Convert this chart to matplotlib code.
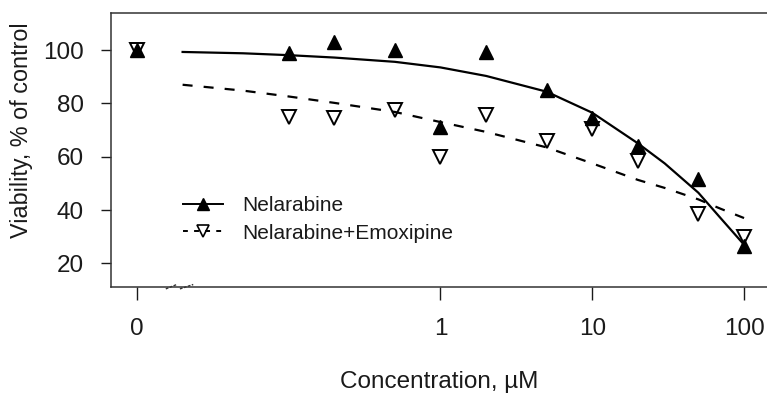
import matplotlib
matplotlib.use("Agg")
import matplotlib.pyplot as plt
import matplotlib.transforms as mtransforms
import numpy as np

plt.rcParams['font.family'] = ['Liberation Sans', 'DejaVu Sans']

# measured points (concentration 0 = control, drawn left of the break)
conc = [0, 0.1, 0.2, 0.5, 1, 2, 5, 10, 20, 50, 100]
nelarabine = [100, 99, 103, 100, 71.3, 99.2, 85, 74.7, 64, 51.6, 26.7]
nel_emox = [100, 75, 74.7, 77.5, 60, 75.8, 65.8, 70.3, 58.3, 38.5, 29.8]

# fitted curves
fit_conc = [0.02, 0.05, 0.1, 0.2, 0.5, 1, 2, 5, 10, 20, 30, 50, 70, 100]
fit_nel = [99.3, 98.8, 98.1, 97.2, 95.6, 93.5, 90.3, 84.4, 76.5, 65, 57.5, 46.5, 37, 27]
fit_emox = [87, 84.8, 82.6, 80.2, 76.8, 73, 69.3, 63.5, 57.5, 51.3, 48.3, 44, 40.5, 37]

xtick_pos = [0.01, 1, 10, 100]
xtick_lab = ["0", "1", "10", "100"]
yticks = [20, 40, 60, 80, 100]
zero_pos = 0.01

x_pts = [zero_pos if c == 0 else c for c in conc]

fig = plt.figure(figsize=(7.67, 3.97), dpi=100)
ax = fig.add_axes([111/767, 1-286.7/397, (769-111)/767, (286.7-13.3)/397])

ax.plot(fit_conc, fit_nel, color='black', lw=1.6, zorder=2)
ax.plot(fit_conc, fit_emox, color='black', lw=1.6, dashes=(4.5, 5), zorder=2)
ax.plot(x_pts, nelarabine, ls='none', marker='^', ms=9.5, color='black', zorder=3)
ax.plot(x_pts, nel_emox, ls='none', marker='v', ms=9.5, mfc='none', mec='black', mew=1.4, zorder=3)

ax.set_xscale('log')
ax.set_xlim(0.00675, 146)
ax.set_ylim(11.25, 113.8)
ax.set_xticks(xtick_pos)
ax.set_xticklabels(xtick_lab)
ax.minorticks_off()
ax.set_yticks(yticks)

for s in ax.spines.values():
    s.set_linewidth(1.1)
    s.set_color('#333333')
ax.tick_params(axis='x', direction='out', length=9.5, width=1.0, pad=13, labelsize=17.5, colors='#1a1a1a')
ax.tick_params(axis='y', direction='out', length=7.5, width=1.0, pad=12, labelsize=17.5, colors='#1a1a1a')

# axis break marks
trans = mtransforms.blended_transform_factory(ax.transData, ax.transAxes)
for a, b in [(0.0155, 0.0183), (0.0192, 0.0235)]:
    ax.plot([a, b], [-0.008, 0.008], color='#333333', lw=1.0, ls=(0, (2, 1)),
            transform=trans, clip_on=False)

leg_h = [
    plt.Line2D([], [], color='black', lw=1.4, marker='^', ms=8),
    plt.Line2D([], [], color='black', lw=1.4, dashes=(2.5, 3.2), marker='v', ms=8, mfc='none', mew=1.2),
]
fig.legend(leg_h, ["Nelarabine", "Nelarabine+Emoxipine"], loc='center left',
           bbox_to_anchor=(183/767, 1-219.5/397), frameon=False, fontsize=15,
           handlelength=1.9, handletextpad=0.95, labelspacing=0.4,
           borderpad=0, borderaxespad=0, labelcolor='#1a1a1a')

fig.text(439/767, 1-382/397, "Concentration, µM", ha='center', va='center', fontsize=17.5, color='#1a1a1a')
fig.text(22/767, 1-130.5/397, "Viability, % of control", ha='center', va='center', rotation=90,
         fontsize=16.8, color='#1a1a1a')

fig.savefig('out.png', dpi=100)
